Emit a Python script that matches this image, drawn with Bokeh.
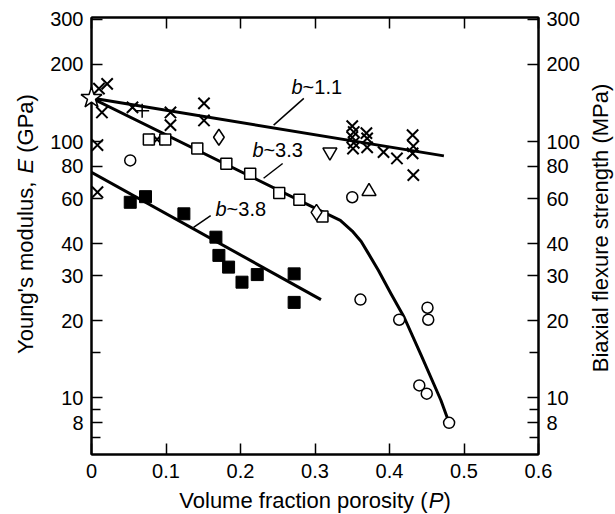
import numpy as np
from bokeh.plotting import figure
from bokeh.models import (LogAxis, LinearAxis, FixedTicker, Range1d,
                          CustomJSTickFormatter, ColumnDataSource)
from bokeh.embed import file_html
from bokeh.resources import INLINE
from bokeh.core.properties import value

FONT = "Liberation Sans"

# ---------------- data (P = volume fraction porosity, E / strength) ----------
cross_P = [0.010, 0.021, 0.014, 0.055, 0.106, 0.106, 0.151, 0.151, 0.088, 0.008, 0.008,
           0.350, 0.352, 0.350, 0.352, 0.351, 0.369, 0.370, 0.370, 0.392, 0.410,
           0.431, 0.432, 0.431, 0.432]
cross_E = [161, 168, 130, 136, 130, 116, 141, 121, 102, 97, 63.5,
           115, 109, 104, 99, 94, 108, 103, 95, 91, 86,
           106, 96, 90, 74]
plus_P = [0.068]
plus_E = [132]
star_P = [0.0]
star_E = [148]
osq_P = [0.077, 0.099, 0.142, 0.181, 0.213, 0.252, 0.279, 0.310]
osq_E = [102, 102, 94, 82, 75, 63, 59.3, 51]
odia_P = [0.171, 0.302]
odia_E = [104, 53]
itri_P = [0.320]
itri_E = [91]
tri_P = [0.3725]
tri_E = [64]
circ_P = [0.052, 0.350, 0.361, 0.413, 0.451, 0.452, 0.440, 0.450, 0.480]
circ_E = [84.5, 60.7, 24.2, 20.2, 22.5, 20.2, 11.2, 10.4, 8.0]
fsq_P = [0.052, 0.0725, 0.124, 0.167, 0.171, 0.184, 0.202, 0.2225, 0.272, 0.272]
fsq_E = [58, 61, 52.3, 42.4, 36, 32.4, 28.3, 30.3, 30.5, 23.6]

# fitted curves
fit11_P = [0.0, 0.473]
fit11_E = [148, 88]
fit38_P = [0.0, 0.308]
fit38_E = [76, 24.2]
fit33_P = [0.0, 0.30, 0.334, 0.350, 0.362, 0.372, 0.385, 0.402, 0.4195, 0.442, 0.469, 0.480]
fit33_E = [148, 55, 49.3, 44.8, 40.8, 36.5, 31.5, 25.5, 20.7, 14.8, 9.8, 8.0]

# annotations: label anchor and leader line (data units)
ann_text = ["~1.1", "~3.3", "~3.8"]
ann_P = [0.2686, 0.216, 0.1666]
ann_E = [164, 92.4, 54.4]
lead_P0 = [0.285, 0.2566, 0.160]
lead_E0 = [147.5, 82.2, 51.4]
lead_P1 = [0.2445, 0.231, 0.137]
lead_E1 = [116, 72, 46.3]

x_ticks = [0.0, 0.1, 0.2, 0.3, 0.4, 0.5, 0.6]
y_ticks = [8, 10, 20, 30, 40, 60, 80, 100, 200, 300]
y_minor = [6, 7, 9, 15]

X_MIN, X_MAX = 0.0, 0.6
Y_MIN, Y_MAX = 6.02, 305

# ---------------- figure ----------------
p = figure(width=615, height=514, x_range=Range1d(X_MIN, X_MAX), y_range=Range1d(Y_MIN, Y_MAX),
           y_axis_type="log", output_backend="svg", toolbar_location=None,
           min_border_left=91, min_border_right=77, min_border_top=17, min_border_bottom=60)
p.grid.visible = False
p.outline_line_color = "black"
p.outline_line_width = 2
p.background_fill_color = "white"
p.border_fill_color = "white"

xfmt = CustomJSTickFormatter(code="return Math.abs(tick) < 1e-9 ? '0' : tick.toFixed(1);")
yfmt = CustomJSTickFormatter(code="return Math.round(tick).toString();")
blank = CustomJSTickFormatter(code="return '';")

bottom = p.below[0]
left = p.left[0]
bottom.ticker = FixedTicker(ticks=x_ticks)
bottom.formatter = xfmt
left.ticker = FixedTicker(ticks=y_ticks, minor_ticks=y_minor)
left.formatter = yfmt

right = LogAxis(ticker=FixedTicker(ticks=y_ticks, minor_ticks=y_minor), formatter=yfmt)
p.add_layout(right, "right")
top = LinearAxis(ticker=FixedTicker(ticks=x_ticks), formatter=blank)
p.add_layout(top, "above")

for ax in [bottom, left, right, top]:
    ax.axis_line_width = 2
    ax.axis_line_color = "black"
    ax.major_tick_in = 11
    ax.major_tick_out = 0
    ax.minor_tick_in = 9
    ax.minor_tick_out = 0
    ax.major_tick_line_width = 1.5
    ax.minor_tick_line_width = 1.5
    ax.major_label_text_font = FONT
    ax.major_label_text_font_size = "20px"
    ax.major_label_text_color = "black"
    ax.major_label_standoff = 8
top.major_label_text_font_size = "0px"
top.major_label_standoff = 0
bottom.major_label_standoff = 9

# ---------------- lines ----------------
p.line(fit11_P, fit11_E, line_color="black", line_width=3)
p.line(fit38_P, fit38_E, line_color="black", line_width=3)
p.line(fit33_P, fit33_E, line_color="black", line_width=3, line_join="round")
p.segment(x0=lead_P0, y0=lead_E0, x1=lead_P1, y1=lead_E1, line_color="black", line_width=1.5)

# ---------------- markers ----------------
kw = dict(line_color="black", level="overlay")
p.scatter(cross_P, cross_E, marker="x", size=16, line_width=2, **kw)
p.scatter(plus_P, plus_E, marker="cross", size=14, line_width=1.5, **kw)
p.scatter(osq_P, osq_E, marker="square", size=11, line_width=1.5, fill_color="white", **kw)
p.scatter(odia_P, odia_E, marker="diamond", size=16, line_width=1.5, fill_color="white", **kw)
p.scatter(itri_P, itri_E, marker="inverted_triangle", size=14, line_width=1.5, fill_color="white", **kw)
p.scatter(tri_P, tri_E, marker="triangle", size=14, line_width=1.5, fill_color="white", **kw)
p.scatter(circ_P, circ_E, marker="circle", size=11, line_width=1.5, fill_color="white", **kw)
p.scatter(fsq_P, fsq_E, marker="square", size=12, line_width=1, fill_color="black", **kw)
p.scatter(star_P, star_E, marker="star", size=22, line_width=1.5, fill_color="white", **kw)

# ---------------- annotations ----------------
src = ColumnDataSource(dict(x=ann_P, y=ann_E, t=ann_text, b=["b"] * len(ann_text)))
p.text(x="x", y="y", text="b", source=src, text_font=value(FONT), text_font_style="italic",
       text_font_size="20px", text_baseline="middle", text_align="left", text_color="black")
p.text(x="x", y="y", text="t", source=src, text_font=value(FONT), text_font_size="20px",
       text_baseline="middle", text_align="left", text_color="black", x_offset=11)

# ---------------- axis titles (mixed upright / italic pieces) ----------------
W = {"V": 667, "o": 556, "l": 222, "u": 556, "m": 833, "e": 556, " ": 278, "f": 278,
     "r": 333, "a": 556, "c": 500, "t": 278, "i": 222, "n": 556, "p": 556, "s": 500,
     "y": 500, "(": 333, ")": 333, "P": 667, "Y": 667, "g": 556, "'": 191, "d": 556,
     ",": 278, "E": 667, "G": 778, "B": 667, "x": 500, "h": 556, "M": 833}


def title_pieces(parts, x, y, angle, cx_off, cy_off, size_px, horizontal):
    widths = [sum(W[ch] for ch in s) / 1000 * size_px for s, _ in parts]
    total = sum(widths)
    pos = -total / 2
    for (s, style), w in zip(parts, widths):
        lead = (len(s) - len(s.lstrip(" "))) * W[" "] / 1000 * size_px
        start = pos + lead
        if horizontal:
            xo, yo = cx_off + start, cy_off
        else:
            xo, yo = cx_off, cy_off - start
        p.text(x=[x], y=[y], text=[s.strip(" ")], angle=angle, x_offset=xo, y_offset=yo,
               text_font=value(FONT), text_font_size=f"{size_px}px", text_font_style=style,
               text_align="left", text_baseline="middle", text_color="black", level="overlay")
        pos += w


y_mid = float(np.sqrt(Y_MIN * Y_MAX))
x_mid = (X_MIN + X_MAX) / 2
title_pieces([("Volume fraction porosity (", "normal"), ("P", "italic"), (")", "normal")],
             x_mid, Y_MIN, 0, 0, 46, 22, True)
title_pieces([("Young's modulus, ", "normal"), ("E", "italic"), (" (GPa)", "normal")],
             X_MIN, y_mid, np.pi / 2, -66, -12, 22, False)
title_pieces([("Biaxial flexure strength (MPa)", "normal")],
             X_MAX, y_mid, np.pi / 2, 62, -8, 22, False)

open("out.html", "w").write(file_html(p, INLINE))
